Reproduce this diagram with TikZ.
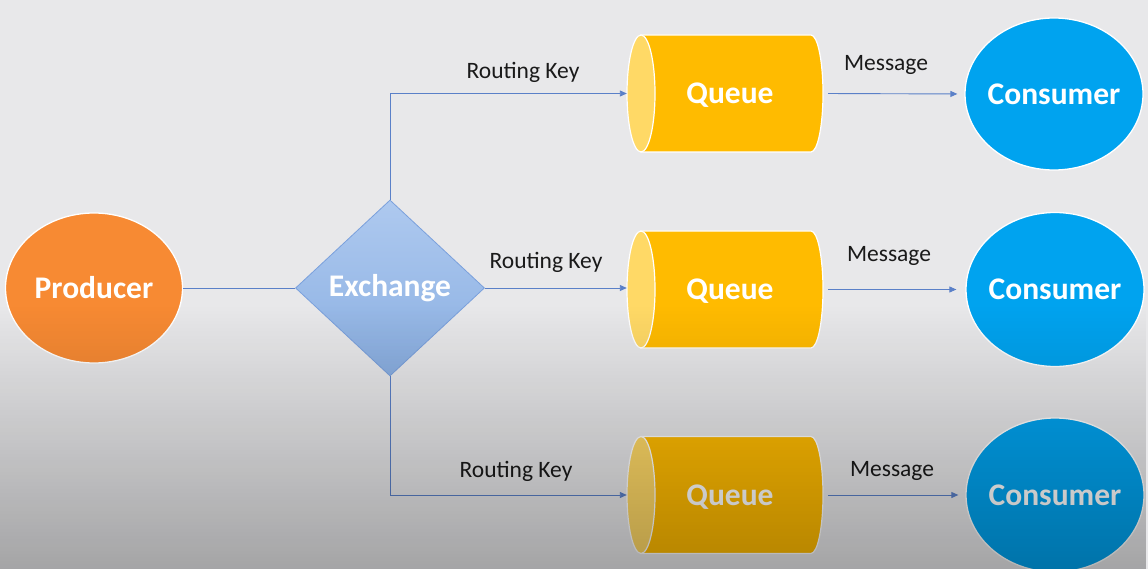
\documentclass[tikz,border=0pt]{standalone}
\usepackage{fontspec}
\setmainfont{Carlito}
\usetikzlibrary{shapes.geometric, arrows.meta, fadings}
\definecolor{bgc}{HTML}{E8E8EA}
\definecolor{prodc}{HTML}{F78A33}
\definecolor{consc}{HTML}{00A3EF}
\definecolor{queuec}{HTML}{FFBB00}
\definecolor{capc}{HTML}{FFD966}
\definecolor{exctop}{HTML}{AEC9EF}
\definecolor{excbot}{HTML}{8AAFE2}
\definecolor{excline}{HTML}{7AA0DC}
\definecolor{linec}{HTML}{5A80C8}
\definecolor{txtc}{HTML}{1A1A1A}
\tikzfading[name=darken, top color=transparent!100, bottom color=transparent!0]
\tikzset{
  bigtext/.style={font=\fontsize{31.5}{36}\selectfont\bfseries, text=white},
  smalltext/.style={font=\fontsize{23.5}{28}\selectfont, text=txtc, inner sep=0pt},
  ellnode/.style={ellipse, draw=white, line width=1.3pt, inner xsep=-25pt, inner ysep=0pt, bigtext},
  qbox/.style={rectangle, inner sep=0pt, minimum width=196pt, minimum height=117pt},
  conn/.style={draw=linec, line width=0.9pt},
  arr/.style={conn, -{Triangle[length=7pt,width=6pt]}},
}
\newcommand\queuedraw[4]{%
  \fill[#3, draw=white, line width=1.2pt] (641,#2-58.5) -- (811,#2-58.5)
     arc[start angle=-90, end angle=90, x radius=12, y radius=58.5] -- (641,#2+58.5) -- cycle;
  \fill[#4, draw=white, line width=1.2pt] (641,#2) ellipse[x radius=14, y radius=58.5];
  \node[qbox] (#1) at (725,#2) {};
  \node[bigtext, inner sep=0pt] (#1t) at (730,#2+2) {Queue};
}
\begin{document}
\begin{tikzpicture}[x=1pt, y=-1pt]
\useasboundingbox (0,0) rectangle (1148,569);
\fill[bgc] (0,0) rectangle (1148,569);

% nodes
\node[ellnode, fill=prodc, minimum width=177pt, minimum height=150pt] (prod) at (94,288) {Producer};
\node[diamond, draw=excline, line width=0.8pt, top color=exctop, bottom color=excbot,
      minimum width=189pt, minimum height=176pt, aspect=1.07, inner sep=0pt, bigtext] (ex) at (390,288) {Exchange};

\queuedraw{q1}{93.5}{queuec}{capc}
\queuedraw{q2}{289.5}{queuec}{capc}
\queuedraw{q3}{495}{queuec}{capc}

\node[ellnode, fill=consc, minimum width=178pt, minimum height=152pt] (c1) at (1054,94) {Consumer};
\node[ellnode, fill=consc, minimum width=178pt, minimum height=154pt] (c2) at (1055,289.5) {Consumer};
\node[ellnode, fill=consc, minimum width=178pt, minimum height=154pt] (c3) at (1055,495) {Consumer};

% connectors
\draw[conn] (prod.east) -- (ex.west);
\draw[arr] (ex.north) |- (q1.west);
\draw[arr] (ex.east) -- (ex.east -| q2.west);
\draw[arr] (ex.south) |- (q3.west);
\draw[arr, shorten <=5pt, shorten >=7pt] (q1.east) -- (c1.west);
\draw[arr, shorten <=5pt, shorten >=9pt] (q2.east) -- (c2.west);
\draw[arr, shorten <=5pt, shorten >=7pt] (q3.east) -- (c3.west);

% labels
\node[smalltext] (rk1) at (523,72) {Routing Key};
\node[smalltext] (rk2) at (546,262) {Routing Key};
\node[smalltext] (rk3) at (516,471) {Routing Key};
\node[smalltext] (m1) at (886,65) {Message};
\node[smalltext] (m2) at (889,256) {Message};
\node[smalltext] (m3) at (892,471) {Message};

% darkening toward the bottom
\fill[black, fill opacity=0.29, path fading=darken] (0,305) rectangle (1148,569);
\end{tikzpicture}
\end{document}
